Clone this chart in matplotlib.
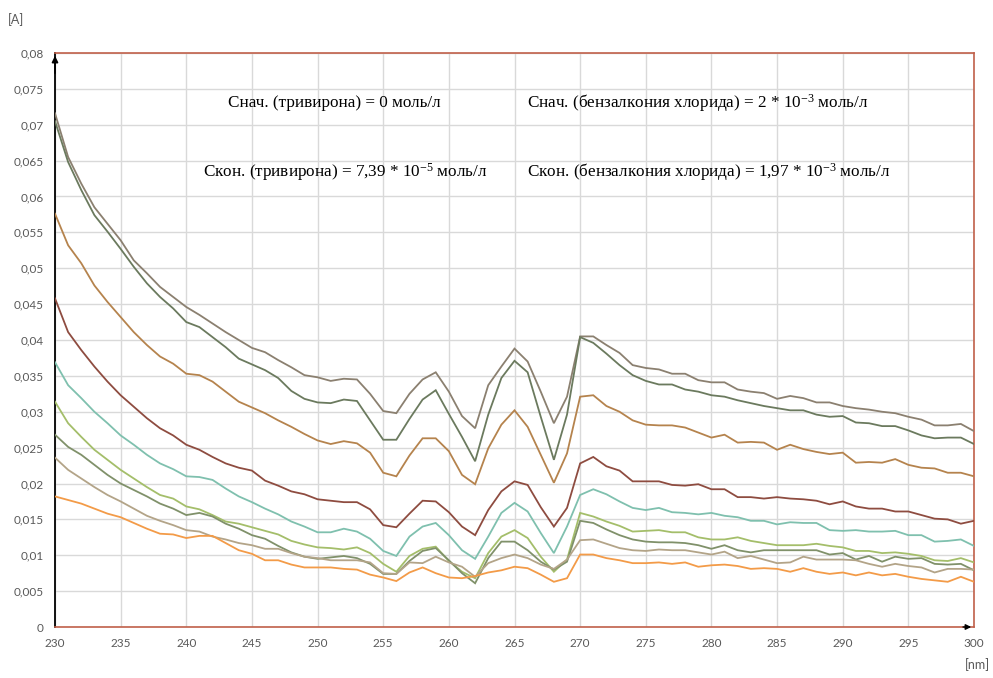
import numpy as np
import matplotlib
matplotlib.use("Agg")
import matplotlib.pyplot as plt
from matplotlib.ticker import MultipleLocator, FuncFormatter

plt.rcParams["mathtext.fontset"] = "custom"
plt.rcParams["mathtext.rm"] = "Liberation Serif"
plt.rcParams["mathtext.it"] = "Liberation Serif"
plt.rcParams["mathtext.bf"] = "Liberation Serif"

# wavelengths, nm
wavelength = np.arange(230, 301)

# absorbance spectra, one list per measurement
spec1 = [0.0716, 0.0655, 0.0618, 0.0585, 0.0562, 0.0539, 0.0511, 0.0493, 0.0474, 0.0460, 0.0446, 0.0435, 0.0423, 0.0411, 0.0400, 0.0389,
         0.0383, 0.0372, 0.0362, 0.0351, 0.0348, 0.0343, 0.0346, 0.0345, 0.0325, 0.0301, 0.0298, 0.0325, 0.0345, 0.0355,
         0.0328,
         0.0294, 0.0277, 0.0337, 0.0363, 0.0388, 0.0370, 0.0328, 0.0284, 0.0321, 0.0405, 0.0405, 0.0393, 0.0382, 0.0365, 0.0361,
         0.0359, 0.0353, 0.0353, 0.0344, 0.0341, 0.0341, 0.0331, 0.0328, 0.0326, 0.0318, 0.0322, 0.0319, 0.0313, 0.0313, 0.0308,
         0.0305, 0.0303, 0.0300, 0.0298, 0.0293, 0.0289, 0.0281, 0.0281, 0.0283, 0.0273]
spec2 = [0.0705, 0.0648, 0.0609, 0.0574, 0.0551, 0.0527, 0.0502, 0.0479, 0.0460, 0.0444, 0.0425, 0.0418, 0.0404, 0.0390, 0.0374, 0.0366,
         0.0358, 0.0347, 0.0329, 0.0318, 0.0313, 0.0312, 0.0317, 0.0315, 0.0288, 0.0261, 0.0261, 0.0290, 0.0317, 0.0330,
         0.0297,
         0.0265, 0.0231, 0.0296, 0.0347, 0.0371, 0.0355, 0.0293, 0.0233, 0.0296, 0.0404, 0.0396, 0.0381, 0.0365, 0.0351, 0.0343,
         0.0338, 0.0338, 0.0331, 0.0328, 0.0323, 0.0321, 0.0316, 0.0312, 0.0308, 0.0305, 0.0302, 0.0302, 0.0296, 0.0293, 0.0294,
         0.0285, 0.0284, 0.0280, 0.0280, 0.0274, 0.0267, 0.0263, 0.0264, 0.0264, 0.0255]
spec3 = [0.0576, 0.0532, 0.0507, 0.0476, 0.0453, 0.0432, 0.0411, 0.0393, 0.0377, 0.0367, 0.0353, 0.0351, 0.0342, 0.0328, 0.0314, 0.0306,
         0.0298, 0.0288, 0.0279, 0.0269, 0.0260, 0.0255, 0.0259, 0.0256, 0.0243, 0.0215, 0.0210, 0.0239, 0.0263, 0.0263,
         0.0245,
         0.0212, 0.0199, 0.0249, 0.0282, 0.0302, 0.0279, 0.0240, 0.0201, 0.0242, 0.0321, 0.0323, 0.0308, 0.0300, 0.0288, 0.0282,
         0.0281, 0.0281, 0.0278, 0.0271, 0.0264, 0.0268, 0.0257, 0.0258, 0.0257, 0.0247, 0.0254, 0.0248, 0.0244, 0.0241, 0.0243,
         0.0229, 0.0230, 0.0229, 0.0234, 0.0226, 0.0222, 0.0221, 0.0215, 0.0215, 0.0210]
spec4 = [0.0458, 0.0411, 0.0386, 0.0363, 0.0342, 0.0323, 0.0307, 0.0291, 0.0277, 0.0267, 0.0254, 0.0247, 0.0237, 0.0228, 0.0222, 0.0218,
         0.0204, 0.0197, 0.0189, 0.0185, 0.0178, 0.0176, 0.0174, 0.0174, 0.0164, 0.0142, 0.0139, 0.0158, 0.0176, 0.0175,
         0.0160,
         0.0140, 0.0128, 0.0163, 0.0189, 0.0203, 0.0198, 0.0167, 0.0140, 0.0166, 0.0228, 0.0237, 0.0224, 0.0218, 0.0203, 0.0203,
         0.0203, 0.0198, 0.0197, 0.0199, 0.0192, 0.0192, 0.0181, 0.0181, 0.0179, 0.0181, 0.0179, 0.0178, 0.0176, 0.0171, 0.0175,
         0.0168, 0.0165, 0.0165, 0.0161, 0.0161, 0.0156, 0.0151, 0.0150, 0.0144, 0.0148]
spec5 = [0.0369, 0.0337, 0.0319, 0.0300, 0.0284, 0.0267, 0.0254, 0.0240, 0.0228, 0.0220, 0.0210, 0.0209, 0.0205, 0.0193, 0.0182, 0.0174,
         0.0165, 0.0157, 0.0147, 0.0140, 0.0132, 0.0132, 0.0137, 0.0133, 0.0123, 0.0106, 0.0099, 0.0126, 0.0140, 0.0145,
         0.0128,
         0.0107, 0.0095, 0.0126, 0.0159, 0.0173, 0.0161, 0.0131, 0.0103, 0.0140, 0.0184, 0.0192, 0.0185, 0.0175, 0.0166, 0.0163,
         0.0166, 0.0160, 0.0159, 0.0157, 0.0159, 0.0155, 0.0153, 0.0148, 0.0148, 0.0143, 0.0146, 0.0145, 0.0145, 0.0135, 0.0134,
         0.0135, 0.0133, 0.0133, 0.0134, 0.0128, 0.0128, 0.0119, 0.0120, 0.0122, 0.0113]
spec6 = [0.0314, 0.0284, 0.0265, 0.0247, 0.0233, 0.0219, 0.0207, 0.0195, 0.0184, 0.0179, 0.0168, 0.0164, 0.0156, 0.0147, 0.0144, 0.0139,
         0.0134, 0.0129, 0.0120, 0.0115, 0.0111, 0.0110, 0.0108, 0.0111, 0.0103, 0.0088, 0.0077, 0.0099, 0.0109, 0.0112,
         0.0092,
         0.0077, 0.0068, 0.0103, 0.0126, 0.0135, 0.0124, 0.0098, 0.0077, 0.0094, 0.0159, 0.0154, 0.0147, 0.0141, 0.0133, 0.0134,
         0.0135, 0.0132, 0.0132, 0.0125, 0.0122, 0.0122, 0.0125, 0.0120, 0.0117, 0.0114, 0.0114, 0.0114, 0.0116, 0.0113, 0.0111,
         0.0106, 0.0106, 0.0103, 0.0104, 0.0102, 0.0099, 0.0093, 0.0092, 0.0096, 0.0090]
spec7 = [0.0268, 0.0251, 0.0240, 0.0226, 0.0212, 0.0200, 0.0191, 0.0182, 0.0172, 0.0165, 0.0156, 0.0159, 0.0154, 0.0144, 0.0137, 0.0128,
         0.0123, 0.0113, 0.0104, 0.0098, 0.0095, 0.0097, 0.0099, 0.0096, 0.0088, 0.0074, 0.0074, 0.0092, 0.0106, 0.0110,
         0.0093,
         0.0075, 0.0061, 0.0096, 0.0119, 0.0119, 0.0107, 0.0091, 0.0080, 0.0091, 0.0148, 0.0145, 0.0136, 0.0128, 0.0122, 0.0119,
         0.0118, 0.0118, 0.0117, 0.0114, 0.0109, 0.0114, 0.0107, 0.0104, 0.0107, 0.0107, 0.0107, 0.0107, 0.0107, 0.0101, 0.0103,
         0.0094, 0.0099, 0.0091, 0.0098, 0.0095, 0.0096, 0.0088, 0.0087, 0.0088, 0.0079]
spec8 = [0.0236, 0.0219, 0.0207, 0.0195, 0.0184, 0.0175, 0.0165, 0.0155, 0.0148, 0.0142, 0.0135, 0.0133, 0.0126, 0.0122, 0.0117, 0.0114,
         0.0109, 0.0109, 0.0103, 0.0098, 0.0096, 0.0093, 0.0093, 0.0093, 0.0090, 0.0075, 0.0074, 0.0090, 0.0089, 0.0098,
         0.0090,
         0.0084, 0.0070, 0.0089, 0.0096, 0.0101, 0.0096, 0.0087, 0.0081, 0.0094, 0.0121, 0.0122, 0.0116, 0.0110, 0.0107, 0.0106,
         0.0108, 0.0107, 0.0107, 0.0104, 0.0101, 0.0105, 0.0096, 0.0099, 0.0094, 0.0089, 0.0090, 0.0098, 0.0094, 0.0094, 0.0094,
         0.0093, 0.0088, 0.0084, 0.0088, 0.0085, 0.0083, 0.0076, 0.0081, 0.0081, 0.0080]
spec9 = [0.0182, 0.0177, 0.0172, 0.0165, 0.0158, 0.0153, 0.0145, 0.0137, 0.0130, 0.0129, 0.0124, 0.0127, 0.0127, 0.0117, 0.0107, 0.0102,
         0.0093, 0.0093, 0.0087, 0.0083, 0.0083, 0.0083, 0.0081, 0.0080, 0.0073, 0.0069, 0.0064, 0.0076, 0.0083, 0.0075,
         0.0069,
         0.0068, 0.0071, 0.0076, 0.0079, 0.0084, 0.0082, 0.0073, 0.0063, 0.0068, 0.0101, 0.0101, 0.0096, 0.0093, 0.0089, 0.0089,
         0.0090, 0.0088, 0.0090, 0.0084, 0.0086, 0.0087, 0.0085, 0.0081, 0.0082, 0.0081, 0.0077, 0.0082, 0.0077, 0.0074, 0.0076,
         0.0072, 0.0076, 0.0072, 0.0074, 0.0070, 0.0067, 0.0065, 0.0063, 0.0070, 0.0063]

spectra = [spec1, spec2, spec3, spec4, spec5, spec6, spec7, spec8, spec9]
colors = ["#8b8070", "#6b7a5e", "#b5834d", "#8e4c40", "#7fc0ae",
          "#a4be6a", "#80916a", "#b3a488", "#f39b48"]

fig = plt.figure(figsize=(9.93, 6.78), dpi=100)
ax = fig.add_axes([55 / 993, 1 - 627 / 678, (974 - 55) / 993, (627 - 53) / 678])

for y, c in zip(spectra, colors):
    ax.plot(wavelength, y, color=c, lw=1.3, solid_joinstyle="miter", zorder=3)

ax.set_xlim(230, 300)
ax.set_ylim(0, 0.08)
ax.xaxis.set_major_locator(MultipleLocator(5))
ax.yaxis.set_major_locator(MultipleLocator(0.005))
ax.yaxis.set_major_formatter(FuncFormatter(
    lambda v, p: "0" if abs(v) < 1e-9 else f"{v:.3f}".rstrip("0").replace(".", ",")))
ax.grid(True, color="#d9d9d9", lw=1.0, zorder=0)
ax.tick_params(length=0, labelsize=8.5, labelcolor="#595959", pad=8)
for lbl in ax.get_xticklabels() + ax.get_yticklabels():
    lbl.set_fontfamily("Lato")

border = "#c0604a"
ax.spines["top"].set_color(border)
ax.spines["right"].set_color(border)
ax.spines["bottom"].set_color(border)
for s in ["top", "right", "bottom"]:
    ax.spines[s].set_linewidth(1.2)
ax.spines["left"].set_color("black")
ax.spines["left"].set_linewidth(1.3)

# axis arrows
ax.annotate("", xy=(0, 1.0), xycoords="axes fraction", xytext=(0, 0.96),
            arrowprops=dict(arrowstyle="-|>", color="black", lw=1.2, mutation_scale=9),
            zorder=5)
ax.annotate("", xy=(1.0, 0), xycoords="axes fraction", xytext=(0.985, 0),
            arrowprops=dict(arrowstyle="-|>", color="black", lw=1.0, mutation_scale=8),
            zorder=5)

fig.text(8 / 993, 1 - 20 / 678, "[A]", fontsize=9, color="#595959",
         family="Lato", va="center", ha="left")
fig.text(990 / 993, 1 - 665 / 678, "[nm]", fontsize=9, color="#595959",
         family="Lato", va="center", ha="right")

serif = dict(fontsize=12.3, family="Liberation Serif", color="black",
             va="center", ha="left", transform=fig.transFigure)
fig.text(228 / 993, 1 - 103 / 678, "Снач. (тривирона) = 0 моль/л", **serif)
fig.text(527 / 993, 1 - 103 / 678,
         r"Снач. (бензалкония хлорида) = 2 * 10$^{\mathrm{-3}}$ моль/л", **serif)
fig.text(203 / 993, 1 - 172 / 678,
         r"Скон. (тривирона) = 7,39 * 10$^{\mathrm{-5}}$ моль/л", **serif)
fig.text(527 / 993, 1 - 172 / 678,
         r"Скон. (бензалкония хлорида) = 1,97 * 10$^{\mathrm{-3}}$ моль/л", **serif)

fig.savefig("out.png", dpi=100, facecolor="white")
